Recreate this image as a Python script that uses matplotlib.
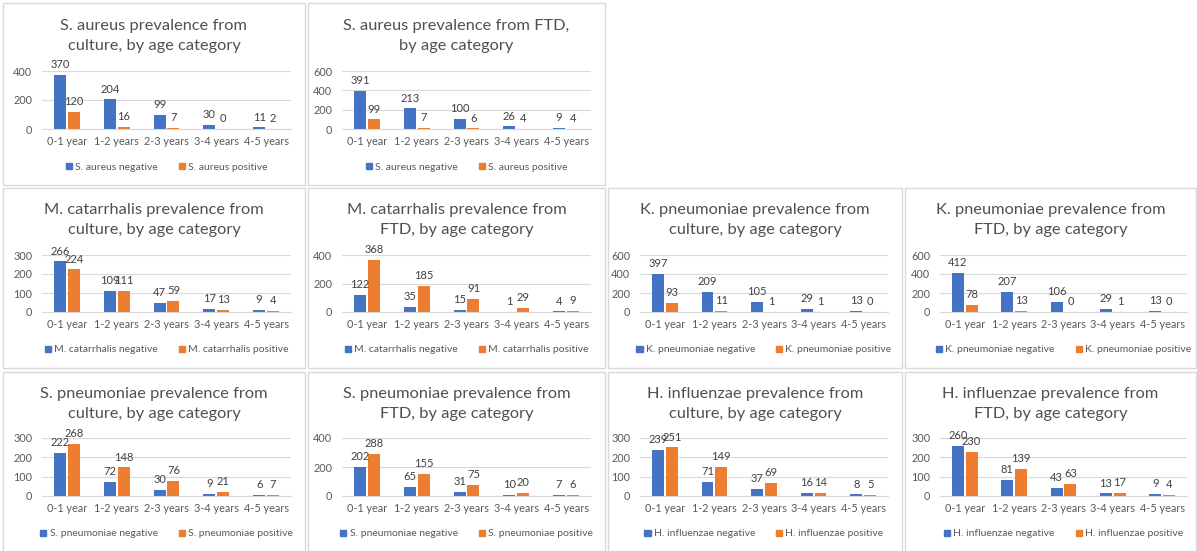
import numpy as np
import matplotlib.pyplot as plt
from matplotlib.patches import Rectangle, Patch

plt.rcParams['font.family'] = ['Lato', 'DejaVu Sans']

W, H = 1197, 551

ages = ['0-1 year', '1-2 years', '2-3 years', '3-4 years', '4-5 years']

sa_cult_neg = [370, 204, 99, 30, 11]
sa_cult_pos = [120, 16, 7, 0, 2]
sa_ftd_neg = [391, 213, 100, 26, 9]
sa_ftd_pos = [99, 7, 6, 4, 4]

mc_cult_neg = [266, 109, 47, 17, 9]
mc_cult_pos = [224, 111, 59, 13, 4]
mc_ftd_neg = [122, 35, 15, 1, 4]
mc_ftd_pos = [368, 185, 91, 29, 9]

kp_cult_neg = [397, 209, 105, 29, 13]
kp_cult_pos = [93, 11, 1, 1, 0]
kp_ftd_neg = [412, 207, 106, 29, 13]
kp_ftd_pos = [78, 13, 0, 1, 0]

sp_cult_neg = [222, 72, 30, 9, 6]
sp_cult_pos = [268, 148, 76, 21, 7]
sp_ftd_neg = [202, 65, 31, 10, 7]
sp_ftd_pos = [288, 155, 75, 20, 6]

hi_cult_neg = [239, 71, 37, 16, 8]
hi_cult_pos = [251, 149, 69, 14, 5]
hi_ftd_neg = [260, 81, 43, 13, 9]
hi_ftd_pos = [230, 139, 63, 17, 4]

BLUE = '#4472C4'
ORANGE = '#ED7D31'
GREY = '#595959'
GRID = '#D9D9D9'

# column x-ranges: panel box and plot area (pixels)
cols = {
    'A': ((3, 305), (42, 291)),
    'B': ((308, 605), (342, 591)),
    'C': ((608, 902), (640, 888)),
    'D': ((905, 1196), (940, 1187)),
}
# row y-ranges: panel box, top gridline / zero line, title centre
rows = {
    1: ((3, 185), (71, 129), 36),
    2: ((188, 368), (255, 312), 220),
    3: ((372, 551), (438, 496), 404),
}

charts = [
    (1, 'A', 'S. aureus prevalence from\nculture, by age category', 'S. aureus',
     sa_cult_neg, sa_cult_pos, 400, 200),
    (1, 'B', 'S. aureus prevalence from FTD,\nby age category', 'S. aureus',
     sa_ftd_neg, sa_ftd_pos, 600, 200),
    (2, 'A', 'M. catarrhalis prevalence from\nculture, by age category', 'M. catarrhalis',
     mc_cult_neg, mc_cult_pos, 300, 100),
    (2, 'B', 'M. catarrhalis prevalence from\nFTD, by age category', 'M. catarrhalis',
     mc_ftd_neg, mc_ftd_pos, 400, 200),
    (2, 'C', 'K. pneumoniae prevalence from\nculture, by age category', 'K. pneumoniae',
     kp_cult_neg, kp_cult_pos, 600, 200),
    (2, 'D', 'K. pneumoniae prevalence from\nFTD, by age category', 'K. pneumoniae',
     kp_ftd_neg, kp_ftd_pos, 600, 200),
    (3, 'A', 'S. pneumoniae prevalence from\nculture, by age category', 'S. pneumoniae',
     sp_cult_neg, sp_cult_pos, 300, 100),
    (3, 'B', 'S. pneumoniae prevalence from\nFTD, by age category', 'S. pneumoniae',
     sp_ftd_neg, sp_ftd_pos, 400, 200),
    (3, 'C', 'H. influenzae prevalence from\nculture, by age category', 'H. influenzae',
     hi_cult_neg, hi_cult_pos, 300, 100),
    (3, 'D', 'H. influenzae prevalence from\nFTD, by age category', 'H. influenzae',
     hi_ftd_neg, hi_ftd_pos, 300, 100),
]

fig = plt.figure(figsize=(W / 100, H / 100), dpi=100)

x = np.arange(len(ages))
bw = 0.24
off = 0.14

for row, col, title, org, neg, pos, ymax, ystep in charts:
    (bx0, bx1), (ax0, ax1) = cols[col]
    (by0, by1), (gtop, gzero), ty = rows[row]

    fig.patches.append(Rectangle((bx0 / W, 1 - by1 / H), (bx1 - bx0) / W, (by1 - by0) / H,
                                 transform=fig.transFigure, fill=False,
                                 edgecolor=GRID, lw=1))
    fig.text((bx0 + bx1) / 2 / W, 1 - ty / H, title, ha='center', va='center',
             fontsize=11.8, color='#505050', linespacing=1.62)

    ax = fig.add_axes([ax0 / W, 1 - gzero / H, (ax1 - ax0) / W, (gzero - gtop) / H])
    b1 = ax.bar(x - off, neg, bw, color=BLUE)
    b2 = ax.bar(x + off, pos, bw, color=ORANGE)
    for bars, vals in ((b1, neg), (b2, pos)):
        for r, v in zip(bars, vals):
            ax.annotate(str(v), (r.get_x() + r.get_width() / 2, v),
                        xytext=(0, 3.5), textcoords='offset points',
                        ha='center', va='bottom', fontsize=8, color='#404040',
                        annotation_clip=False)

    ax.set_xlim(-0.5, len(ages) - 0.5)
    ax.set_ylim(0, ymax)
    ax.set_yticks(np.arange(0, ymax + 1, ystep))
    ax.set_xticks(x)
    ax.set_xticklabels(ages)
    ax.yaxis.grid(True, color=GRID, lw=0.8)
    ax.set_axisbelow(True)
    for s in ('top', 'right', 'left'):
        ax.spines[s].set_visible(False)
    ax.spines['bottom'].set_color(GRID)
    ax.tick_params(length=0, labelsize=7.8, labelcolor=GREY)
    ax.tick_params(axis='x', pad=5)
    ax.tick_params(axis='y', pad=7)

    handles = [Patch(color=BLUE, label=org + ' negative'),
               Patch(color=ORANGE, label=org + ' positive')]
    ax.legend(handles=handles, loc='center', bbox_to_anchor=(0.5, -38 / (gzero - gtop)),
              ncol=2, frameon=False, fontsize=7.5, labelcolor=GREY,
              handlelength=0.6, handleheight=0.6, handletextpad=0.3,
              columnspacing=2.0)

fig.savefig('out.png', dpi=100, facecolor='white')
